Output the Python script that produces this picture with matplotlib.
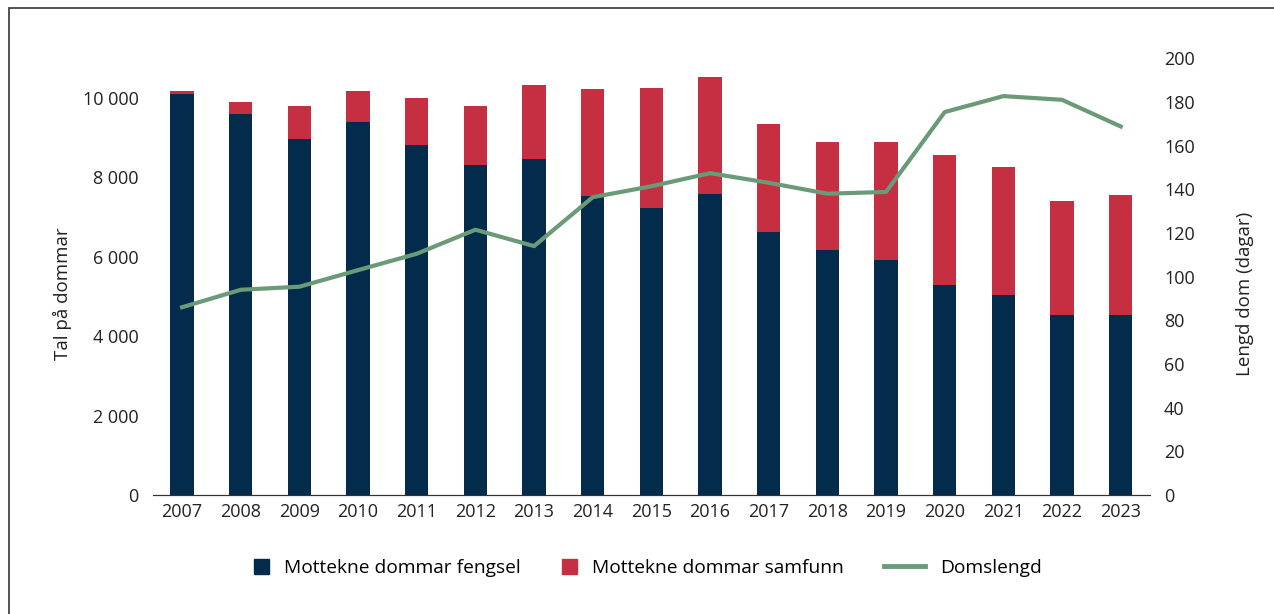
import matplotlib.pyplot as plt
import matplotlib.patches as mpatches
from matplotlib.legend_handler import HandlerPatch
import numpy as np

plt.rcParams['font.family'] = ['Open Sans', 'DejaVu Sans']

years = ['2007', '2008', '2009', '2010', '2011', '2012', '2013', '2014', '2015',
         '2016', '2017', '2018', '2019', '2020', '2021', '2022', '2023']
fengsel = [10110, 9600, 8975, 9390, 8825, 8320, 8470, 7540, 7240,
           7590, 6635, 6170, 5910, 5300, 5045, 4535, 4535]
total = [10170, 9900, 9800, 10170, 10010, 9800, 10320, 10220, 10260,
         10520, 9345, 8885, 8885, 8570, 8270, 7400, 7550]
samfunn = [t - f for t, f in zip(total, fengsel)]
domslengd = [86, 94, 95.4, 103, 110.5, 121.5, 114, 136.4, 141.4,
             147.4, 143, 138, 138.8, 175.4, 182.7, 181, 168.8]

c_blue = '#022b4c'
c_red = '#c52f41'
c_green = '#6a9a77'

fig = plt.figure(figsize=(12.74, 6.14), dpi=100)
ax = fig.add_axes([0.1199, 0.1938, 0.7828, 0.7112])
x = np.arange(len(years))

ax.bar(x, fengsel, width=0.4, color=c_blue)
ax.bar(x, samfunn, width=0.4, bottom=fengsel, color=c_red)

ax.set_xlim(-0.5, len(years) - 0.5)
ax.set_ylim(0, 11000)
ax.set_yticks(range(0, 10001, 2000))
ax.set_yticklabels([f'{v:,}'.replace(',', ' ') for v in range(0, 10001, 2000)])
ax.set_xticks(x)
ax.set_xticklabels(years)
ax.set_ylabel('Tal på dommar', fontsize=13.5, color='#222222')
ax.yaxis.set_label_coords(-0.081, 0.46)

ax2 = ax.twinx()
ax2.plot(x, domslengd, color=c_green, lw=3)
ax2.set_ylim(0, 200)
ax2.set_yticks(range(0, 201, 20))
ax2.set_ylabel('Lengd dom (dagar)', fontsize=13.5, color='#222222')
ax2.yaxis.set_label_coords(1.086, 0.46)

for a in (ax, ax2):
    for s in ('top', 'left', 'right'):
        a.spines[s].set_visible(False)
    a.spines['bottom'].set_color('#333333')
    a.tick_params(length=0, labelsize=13, colors='#222222', pad=10)
ax.tick_params(axis='x', pad=6)


# square legend markers sitting at the right end of the handle box
def square(legend, orig_handle, xdescent, ydescent, width, height, fontsize):
    s = height * 1.15
    return mpatches.Rectangle((xdescent + width - s, ydescent - 0.1 * height), s, s)


handles = [mpatches.Patch(color=c_blue), mpatches.Patch(color=c_red),
           plt.Line2D([], [], color=c_green, lw=3.5)]
labels = ['Mottekne dommar fengsel', 'Mottekne dommar samfunn     ', 'Domslengd']
ax.legend(handles, labels, loc='center', bbox_to_anchor=(0.4836, -0.167),
          ncol=3, frameon=False, fontsize=13.8, handlelength=2.15,
          columnspacing=0.78, handletextpad=0.78,
          handler_map={mpatches.Patch: HandlerPatch(patch_func=square)})

fig.patches.append(mpatches.Rectangle((9 / 1274, -0.05), 1.2, 0.05 + (614 - 8) / 614,
                                      transform=fig.transFigure, fill=False,
                                      edgecolor='#444444', lw=1.3))

fig.savefig('out.png', dpi=100)
